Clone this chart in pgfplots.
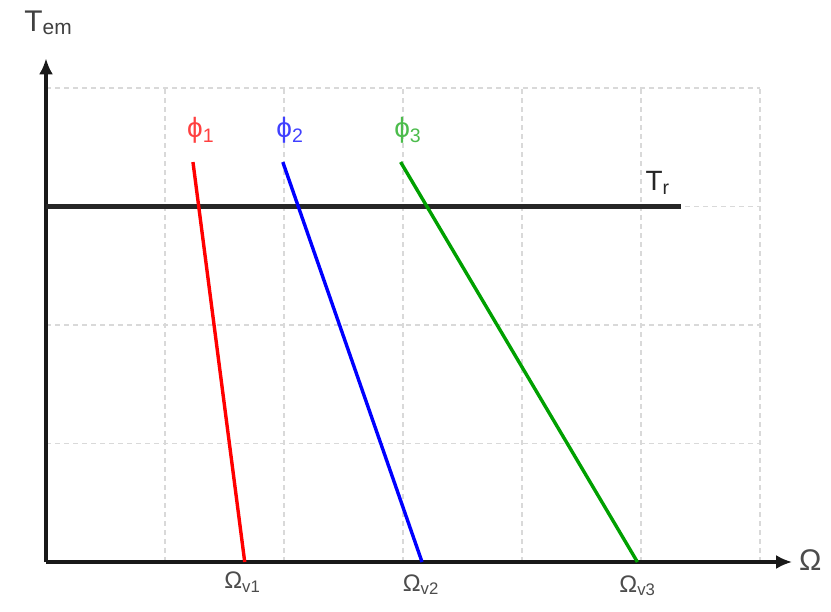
\documentclass[border=0pt]{standalone}
\usepackage{pgfplots}
\pgfplotsset{compat=1.18}
\usepackage{fontspec}
\setmainfont{Liberation Sans}
\usetikzlibrary{arrows.meta}
\definecolor{gr}{RGB}{0,160,0}
\begin{document}
\begin{tikzpicture}
\useasboundingbox (-46bp,-50bp) rectangle (785bp,562bp);
\begin{axis}[
  anchor=origin, at={(0,0)},
  x=119bp, y=118.5bp,
  xmin=0, xmax=6, ymin=0, ymax=4,
  axis line style={draw=none},
  xtick={1,2,3,4,5,6}, ytick={1,2,3,4},
  xticklabels={}, yticklabels={},
  major tick length=0pt,
  grid=major,
  grid style={gray!30, line width=1.3bp, dash pattern=on 5bp off 4bp},
  clip=false,
]
\addplot[black!90, line width=3.5bp] coordinates {(0,0) (6.2,0)};
\addplot[black!90, line width=3.5bp] coordinates {(0,0) (0,4.2)};
\draw[-{Latex[length=16bp,width=14bp]}, line width=3.5bp, black!90] (axis cs:6.0,0) -- (axis cs:6.27,0);
\draw[-{Latex[length=16bp,width=14bp]}, line width=3.5bp, black!90] (axis cs:0,4.0) -- (axis cs:0,4.25);
\addplot[black!85, line width=4.5bp] coordinates {(0,3.0) (5.34,3.0)};
\addplot[red, line width=3.4bp] coordinates {(1.235,3.375) (1.67,0)};
\addplot[blue, line width=3.4bp] coordinates {(1.99,3.375) (3.16,0)};
\addplot[gr, line width=3.4bp] coordinates {(2.98,3.375) (4.97,0)};
\node[red!75, font=\fontsize{28}{30}\selectfont] at (axis cs:1.3,3.64) {ϕ\textsubscript{1}};
\node[blue!75, font=\fontsize{28}{30}\selectfont] at (axis cs:2.05,3.64) {ϕ\textsubscript{2}};
\node[gr!70!white, font=\fontsize{28}{30}\selectfont] at (axis cs:3.04,3.64) {ϕ\textsubscript{3}};
\node[black!85, font=\fontsize{28}{30}\selectfont] at (axis cs:5.14,3.2) {T\textsubscript{r}};
\node[black!70, font=\fontsize{24}{26}\selectfont] at (axis cs:1.65,-0.17) {Ω\textsubscript{v1}};
\node[black!70, font=\fontsize{24}{26}\selectfont] at (axis cs:3.15,-0.19) {Ω\textsubscript{v2}};
\node[black!70, font=\fontsize{24}{26}\selectfont] at (axis cs:4.97,-0.2) {Ω\textsubscript{v3}};
\node[black!70, font=\fontsize{30}{32}\selectfont, anchor=west] at (axis cs:6.3,0.02) {Ω};
\node[black!75, font=\fontsize{30}{32}\selectfont] at (axis cs:0.02,4.55) {T\textsubscript{em}};
\end{axis}
\end{tikzpicture}
\end{document}
